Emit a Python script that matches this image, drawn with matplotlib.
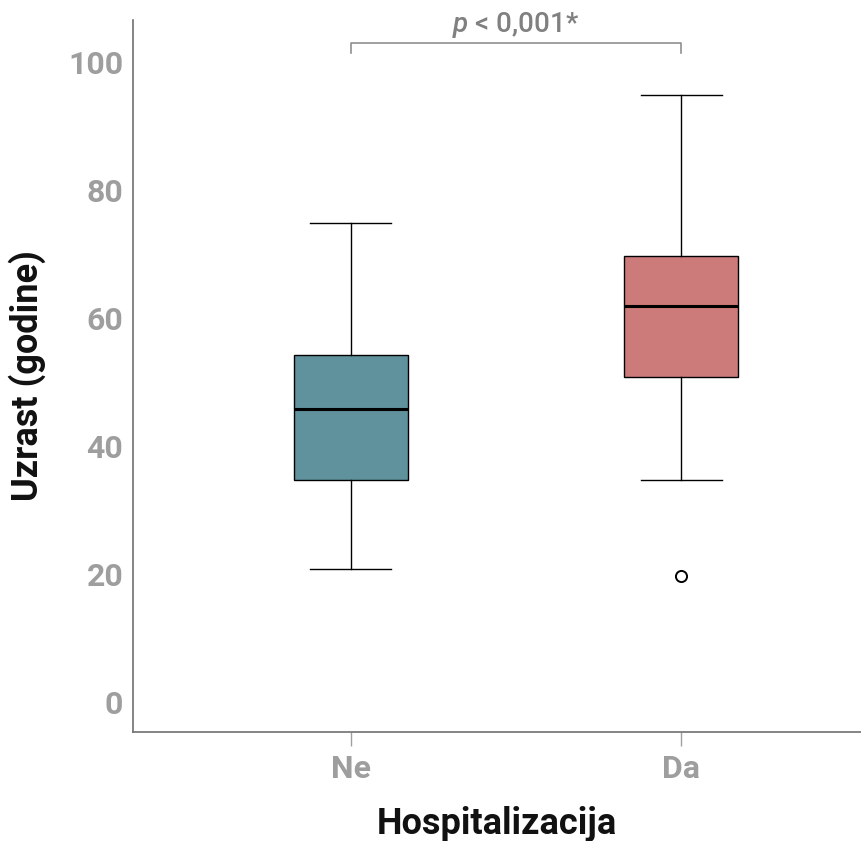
import matplotlib
matplotlib.use("Agg")
import matplotlib.pyplot as plt

categories = ["Ne", "Da"]
whislo = [20.8, 34.7]
q1 = [34.7, 50.8]
med = [45.8, 61.9]
q3 = [54.2, 69.7]
whishi = [74.8, 94.8]
outliers = [[], [19.7]]
box_colors = ["#5F929C", "#CD7A7A"]
y_ticks = [0, 20, 40, 60, 80, 100]
p_text = "< 0,001*"

plt.rcParams['font.family'] = ['Roboto', 'DejaVu Sans']
plt.rcParams['mathtext.fontset'] = 'custom'
plt.rcParams['mathtext.it'] = 'Roboto:italic:medium'

fig = plt.figure(figsize=(8.61, 8.41), dpi=100)
ax = fig.add_axes([133/861, 1-732/841, 1-133/861, (732-20)/841])

stats = []
for i, c in enumerate(categories):
    stats.append(dict(label=c, whislo=whislo[i], q1=q1[i], med=med[i], q3=q3[i],
                      whishi=whishi[i], fliers=outliers[i]))

positions = list(range(1, len(categories)+1))
bp = ax.bxp(stats, positions=positions, widths=0.345, patch_artist=True,
            showfliers=True,
            boxprops=dict(linewidth=1.0, edgecolor="black"),
            medianprops=dict(color="black", linewidth=2.2),
            whiskerprops=dict(color="black", linewidth=1.0),
            capprops=dict(color="black", linewidth=1.0),
            capwidths=0.245,
            flierprops=dict(marker="o", markersize=8, markerfacecolor="white",
                            markeredgecolor="black", markeredgewidth=1.4))
for patch, col in zip(bp["boxes"], box_colors):
    patch.set_facecolor(col)

ax.set_xlim(0.34, 2.545)
ax.set_ylim(-4.7, 106.6)
ax.set_yticks(y_ticks)
ax.set_xticks(positions)
ax.set_xticklabels(categories)

for s in ["top", "right"]:
    ax.spines[s].set_visible(False)
for s in ["left", "bottom"]:
    ax.spines[s].set_color("#707070")
    ax.spines[s].set_linewidth(1.2)

ax.tick_params(axis="y", length=0, pad=7, labelsize=23, labelcolor="#9E9E9E")
ax.tick_params(axis="x", length=10, width=1.0, color="#A0A0A0", pad=6,
               labelsize=23, labelcolor="#9E9E9E")
for lab in ax.get_xticklabels() + ax.get_yticklabels():
    lab.set_fontweight("bold")

ax.set_xlabel("Hospitalizacija", fontsize=26, fontweight="bold", color="#111111", labelpad=16)
ax.set_ylabel("Uzrast (godine)", fontsize=26, fontweight="bold", color="#111111", labelpad=16)

# significance bracket
yb, yt = 101.4, 103.0
ax.plot([1, 1, 2, 2], [yb, yt, yt, yb], color="#909090", linewidth=1.2, clip_on=False)
ax.text(1.5, yt + 0.5, "$p$ " + p_text, ha="center", va="bottom",
        fontsize=20, fontweight="medium", color="#808080")

fig.savefig("out.png", dpi=100)
